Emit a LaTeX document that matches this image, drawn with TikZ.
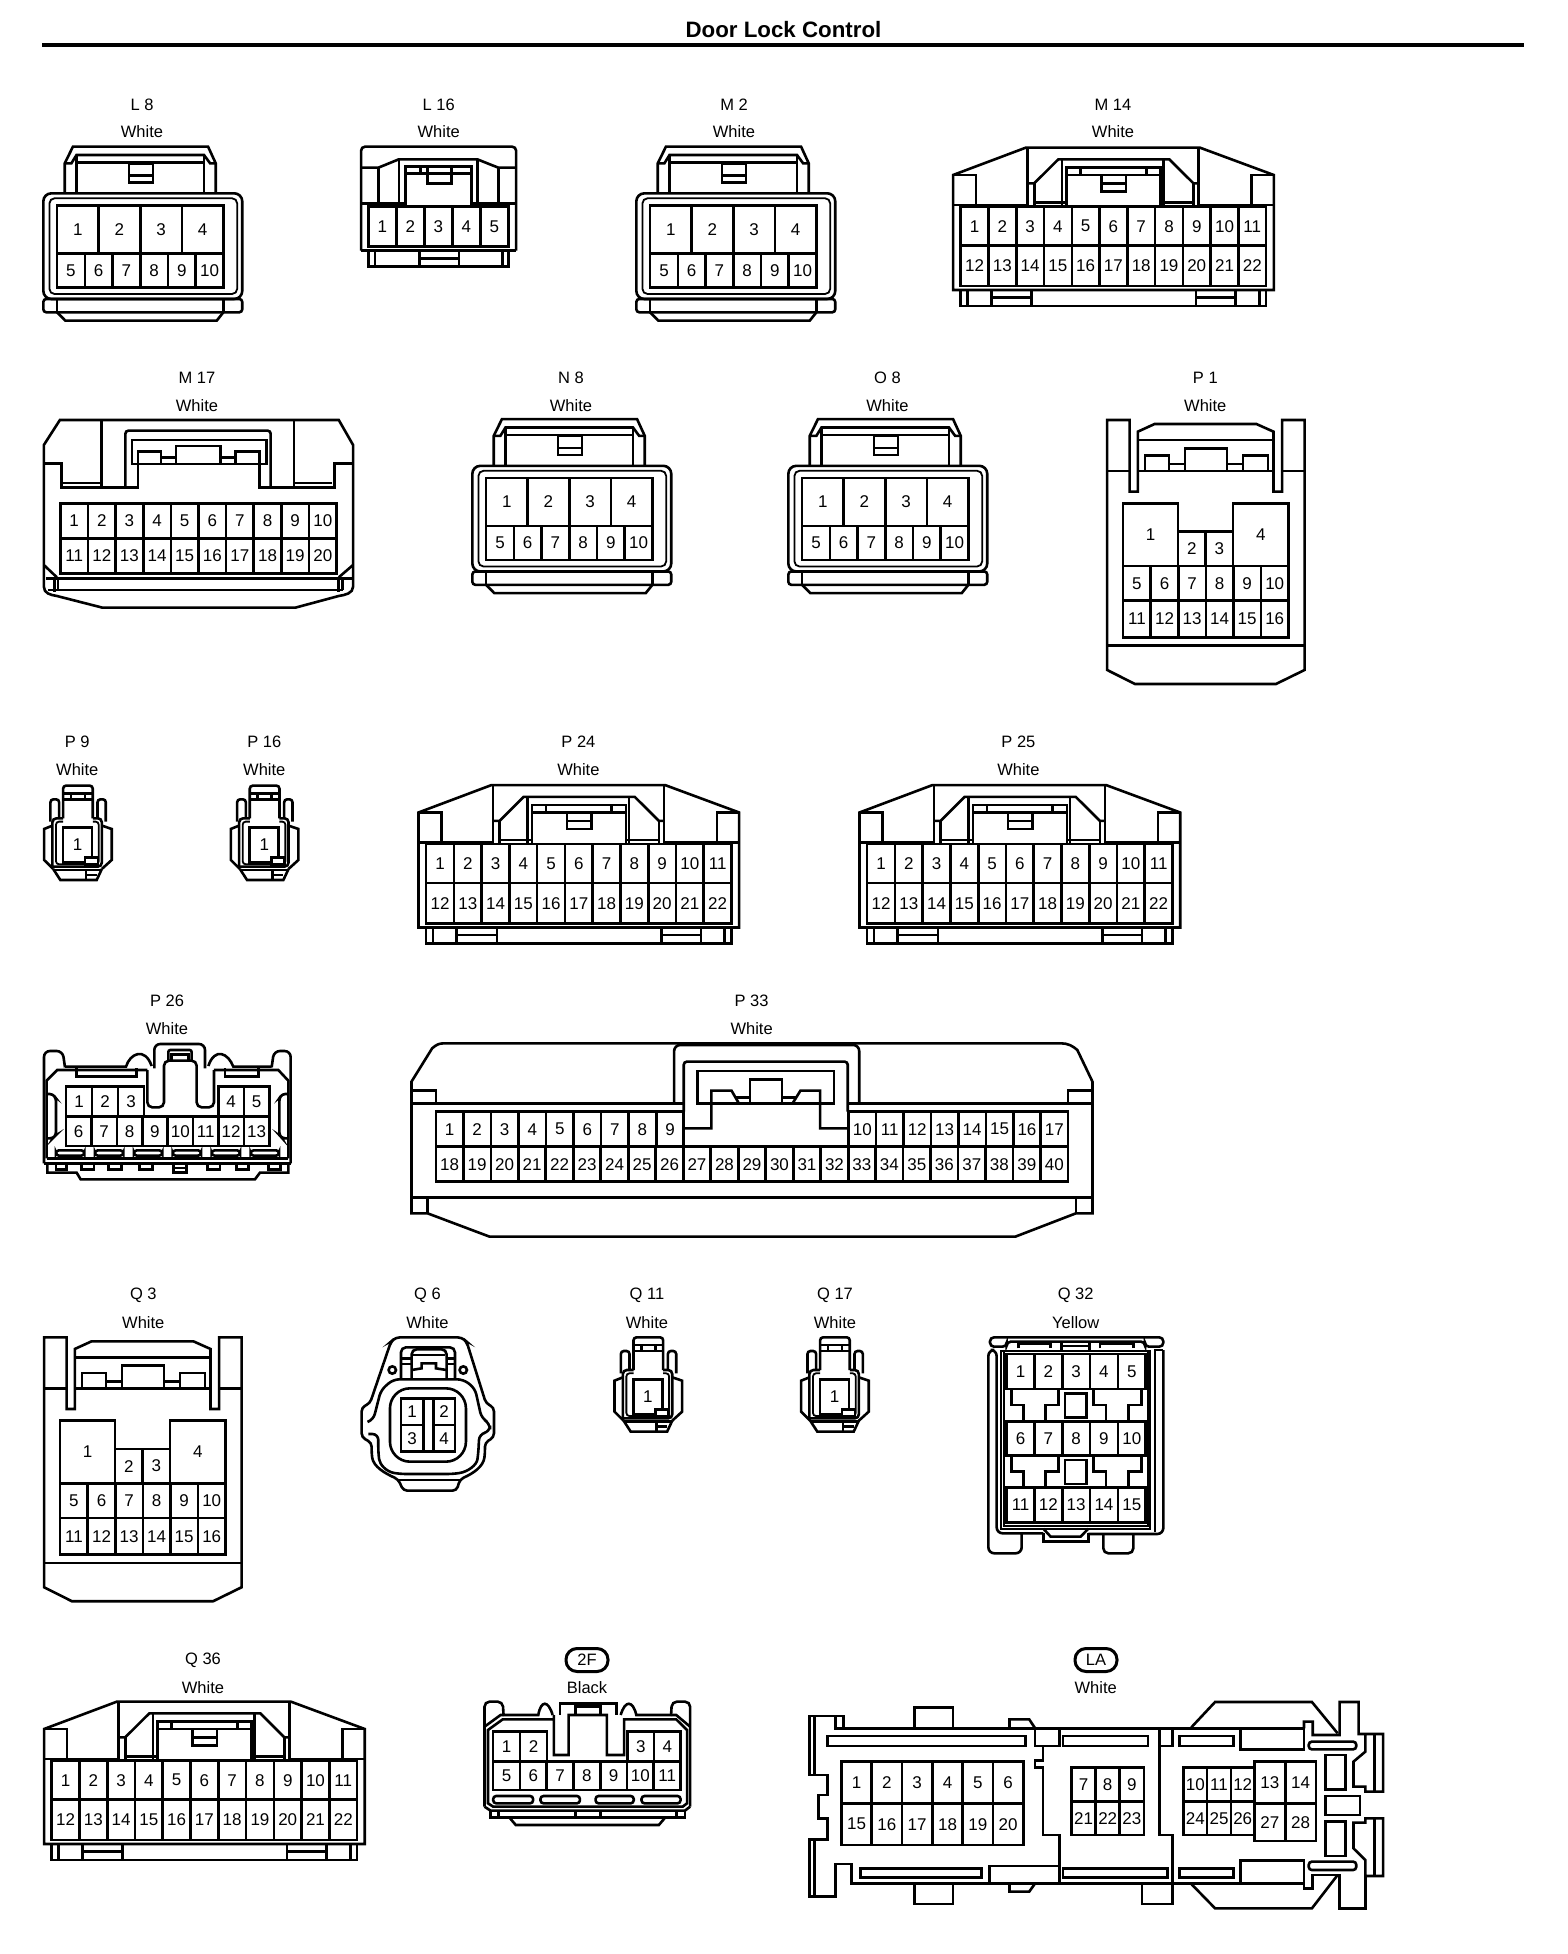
\documentclass[tikz,border=0pt]{standalone}
\usepackage{fontspec}
\setmainfont{Liberation Sans}
\newcount\pincnt
\tikzset{
  ln/.style={line width=2.6pt,line join=miter,line cap=butt},
  thn/.style={line width=1.8pt},
  pinlab/.style={font=\fontsize{17}{18}\selectfont,inner sep=0pt},
  toplab/.style={font=\fontsize{16.5}{18}\selectfont,inner sep=0pt},
  ovalbox/.style={draw,line width=3pt,rounded corners=11pt,minimum width=42pt,minimum height=23pt,inner sep=0pt,font=\fontsize{16.5}{18}\selectfont}
}
% row of equal cells in the current scale: x0,x1,y0,y1,n,first
\newcommand\prow[6]{%
  \draw[ln] (#1,#3) rectangle (#2,#4);
  \foreach \i in {1,...,#5}{
    \pgfmathsetmacro\xa{#1+(#2-#1)/#5*(\i-1)}
    \pgfmathsetmacro\xb{#1+(#2-#1)/#5*\i}
    \pgfmathtruncatemacro\lab{#6+\i-1}
    \ifnum\i>1 \draw[ln] (\xa,#3)--(\xa,#4);\fi
    \global\advance\pincnt by 1
    \node[pinlab] (pin\the\pincnt) at ({(\xa+\xb)/2},{(#3+#4)/2}) {\lab};
  }}
% single cell: x0,y0,x1,y1,label
\newcommand\pcell[5]{%
  \draw[ln] (#1,#2) rectangle (#3,#4);
  \global\advance\pincnt by 1
  \node[pinlab] (pin\the\pincnt) at ({(#1+#3)/2},{(#2+#4)/2}) {#5};}
\newcommand\tlabels[5]{% name,x,y,text1,text2
  \node[toplab] (#1a) at (#2,#3) {#4};
  \node[toplab] (#1b) at (#2,#3+27.4) {#5};}

% four-over-six connector (L8, M2, N8, O8)
\newcommand\connA[2]{\begin{scope}[shift={(#1,#2)},xscale=0.51,yscale=0.3333]
  \draw[ln] (127,580)--(127,490)--(143,440)--(408,440)--(423,490)--(423,580);
  \draw[ln] (127,490)--(140,490)--(150,465)--(400,465)--(412,490)--(423,490);
  \draw[ln] (150,465)--(150,580) (400,465)--(400,580) (150,488)--(400,488);
  \draw[ln] (253,490) rectangle (300,548) (253,527)--(300,527);
  \draw[ln,rounded corners=8pt] (85,580) rectangle (475,897);
  \draw[thn,rounded corners=5pt] (97,595) rectangle (465,882);
  \prow{112}{438}{617}{760}{4}{1}
  \prow{112}{438}{760}{862}{6}{5}
  \draw[ln,rounded corners=3pt] (85,897) rectangle (475,937);
  \draw[ln] (112,897)--(112,937) (438,897)--(438,937);
  \draw[ln] (112,937)--(128,962)--(425,962)--(438,937);
\end{scope}}

% 22 pin connector (M14, P24, P25, Q36)
\newcommand\connC[2]{\begin{scope}[shift={(800+#1,80+#2)},xscale=0.3827,yscale=0.3333]
  \draw[ln] (400,285)--(590,203)--(1045,203)--(1238,285)--(1238,630)--(400,630)--cycle;
  \draw[ln] (400,285)--(460,285)--(460,375) (1238,285)--(1180,285)--(1180,375);
  \draw[ln] (400,375)--(597,375) (1042,375)--(1238,375);
  \draw[ln] (595,203)--(595,380) (1042,203)--(1042,380);
  \draw[ln] (595,310)--(612,310)--(675,238)--(965,238)--(1028,310)--(1042,310);
  \draw[ln] (612,310)--(612,380) (1028,310)--(1028,380);
  \draw[ln] (685,238)--(685,378) (950,238)--(950,378);
  \draw[ln] (697,380)--(697,262)--(942,262)--(942,380) (697,285)--(942,285);
  \draw[ln] (733,262)--(733,285) (905,262)--(905,285);
  \draw[ln] (612,368)--(697,368) (942,368)--(1028,368);
  \draw[ln] (788,285) rectangle (852,335) (788,310)--(852,310);
  \prow{420}{1218}{380}{497}{11}{1}
  \prow{420}{1218}{497}{618}{11}{12}
  \draw[ln] (420,630)--(420,678)--(1218,678)--(1218,630);
  \draw[ln] (438,630)--(438,678) (1200,630)--(1200,678);
  \draw[ln] (500,630)--(500,678) (605,630)--(605,678) (500,652)--(605,652);
  \draw[ln] (1035,630)--(1035,678) (1138,630)--(1138,678) (1035,652)--(1138,652);
\end{scope}}

% 16 pin connector (P1, Q3)
\newcommand\connE[2]{\begin{scope}[shift={(760+#1,360+#2)},xscale=0.3571,yscale=0.3333]
  \draw[ln] (972,180)--(972,930)--(1050,972)--(1445,972)--(1525,930)--(1525,180)--(1462,180)--(1462,395)--(1438,395)--(1438,215)--(1390,192)--(1105,192)--(1058,215)--(1058,395)--(1035,395)--(1035,180)--cycle;
  \draw[ln] (972,333)--(1035,333) (1058,333)--(1438,333) (1462,333)--(1525,333) (1058,240)--(1438,240);
  \draw[ln] (1078,333)--(1078,287)--(1145,287)--(1145,333);
  \draw[ln] (1190,333)--(1190,265)--(1308,265)--(1308,333);
  \draw[ln] (1352,333)--(1352,287)--(1422,287)--(1422,333);
  \draw[ln] (1145,312)--(1190,312) (1308,312)--(1352,312);
  \pcell{1017}{430}{1171}{618}{1}
  \pcell{1171}{515}{1248}{618}{2}
  \pcell{1248}{515}{1325}{618}{3}
  \pcell{1325}{430}{1480}{618}{4}
  \prow{1017}{1480}{618}{722}{6}{5}
  \prow{1017}{1480}{722}{832}{6}{11}
  \draw[ln] (972,857)--(1525,857);
\end{scope}}

% single pin connector (P9, P16, Q11, Q17)
\newcommand\connF[2]{\begin{scope}[shift={(590+#1,1290+#2)},xscale=0.3954,yscale=0.3333]
  \draw[ln,rounded corners=3pt] (110,240)--(110,142)--(185,142)--(185,240);
  \draw[ln] (110,165)--(185,165) (110,183)--(185,183);
  \draw[ln] (130,165)--(130,183) (165,165)--(165,183);
  \draw[ln,rounded corners=3pt] (78,250)--(78,183)--(100,183)--(100,240);
  \draw[ln,rounded corners=3pt] (197,240)--(197,183)--(218,183)--(218,250);
  \draw[ln,rounded corners=4pt] (83,385)--(83,240)--(110,240);
  \draw[ln,rounded corners=4pt] (185,240)--(208,240)--(208,385)--(83,385);
  \draw[thn,rounded corners=3pt] (110,250)--(92,250)--(92,378)--(200,378)--(200,250)--(185,250);
  \draw[ln] (83,262)--(62,272)--(62,365)--(85,392);
  \draw[ln] (208,262)--(233,272)--(233,365)--(208,392);
  \draw[ln] (85,392)--(103,425)--(195,425)--(208,392);
  \draw[ln] (85,395)--(208,395) (168,398)--(168,425) (168,410)--(195,410);
  \pcell{110}{268}{183}{372}{1}
  \draw[ln,fill=white] (165,358) rectangle (198,378);
\end{scope}}

\begin{document}
\begin{tikzpicture}[x=1pt,y=-1pt]
\useasboundingbox (0,0) rectangle (1568,1954);
\fill[white] (0,0) rectangle (1568,1954);

% title
\node[inner sep=0pt,font=\fontsize{22.3}{24}\selectfont\bfseries] (title) at (783.5,30) {Door Lock Control};
\draw[line width=4pt] (42,45)--(1524,45);

% labels
\tlabels{lLeight}{142}{104.7}{L 8}{White}
\tlabels{lLsix}{438.7}{104.7}{L 16}{White}
\tlabels{lMtwo}{734}{104.7}{M 2}{White}
\tlabels{lMfour}{1113}{104.7}{M 14}{White}
\tlabels{lMseven}{197}{377.7}{M 17}{White}
\tlabels{lNeight}{571}{377.7}{N 8}{White}
\tlabels{lOeight}{887.5}{377.7}{O 8}{White}
\tlabels{lPone}{1205.3}{377.7}{P 1}{White}
\tlabels{lPnine}{77.3}{741.7}{P 9}{White}
\tlabels{lPsix}{264.3}{741.7}{P 16}{White}
\tlabels{lPtf}{578.4}{741.7}{P 24}{White}
\tlabels{lPtv}{1018.4}{741.7}{P 25}{White}
\tlabels{lPts}{167}{1001}{P 26}{White}
\tlabels{lPtt}{751.6}{1001}{P 33}{White}
\tlabels{lQth}{143.3}{1295}{Q 3}{White}
\tlabels{lQsx}{427.5}{1295}{Q 6}{White}
\tlabels{lQel}{647}{1295}{Q 11}{White}
\tlabels{lQsv}{835}{1295}{Q 17}{White}
\tlabels{lQtt}{1075.7}{1295}{Q 32}{Yellow}
\tlabels{lQts}{203}{1660}{Q 36}{White}
\node[ovalbox] (ovalTF) at (587,1660) {2F};
\node[toplab] (lTF) at (587,1687.4) {Black};
\node[ovalbox] (ovalLA) at (1096,1660) {LA};
\node[toplab] (lLA) at (1095.7,1687.4) {White};

% four-over-six
\connA{0}{0}
\connA{593}{0}
\connA{429}{272.5}
\connA{745}{272.5}

% L 16
\begin{scope}[xscale=0.51,yscale=0.3333]
  \draw[ln,rounded corners=4pt] (708,752)--(708,440)--(1012,440)--(1012,752);
  \draw[ln] (708,752)--(1012,752);
  \prow{722}{997}{620}{740}{5}{1}
  \draw[ln] (722,752)--(722,800)--(997,800)--(997,752);
  \draw[ln] (735,752)--(735,800) (985,752)--(985,800) (822,752)--(822,800) (900,752)--(900,800) (822,775)--(900,775);
  \draw[ln] (708,503)--(742,503)--(782,478)--(936,478)--(977,503)--(1012,503);
  \draw[ln] (742,503)--(742,610) (977,503)--(977,610) (782,478)--(782,620) (936,478)--(936,620);
  \draw[ln] (708,610)--(795,610) (925,610)--(1012,610);
  \draw[ln] (795,620)--(795,500)--(925,500)--(925,620) (795,520)--(925,520);
  \draw[ln] (825,500)--(825,520) (885,500)--(885,520);
  \draw[ln] (838,500)--(838,550)--(885,550)--(885,520);
\end{scope}

% 22 pin
\connC{0}{0}
\connC{-534.6}{637.5}
\connC{-93.6}{637.5}
\connC{-909}{1554}

% M 17
\begin{scope}[shift={(20,360)},xscale=0.4337,yscale=0.3333]
  \draw[ln] (92,180)--(735,180)--(768,255)--(768,680) .. controls (768,700) and (750,705) .. (735,708)--(635,743)--(190,743)--(85,708) .. controls (70,705) and (55,700) .. (55,680)--(55,255)--cycle;
  \draw[ln] (55,310)--(95,310)--(95,383)--(272,383)--(272,312);
  \draw[ln] (552,312)--(552,383)--(725,383)--(725,310)--(768,310);
  \draw[ln] (188,180)--(188,383) (632,180)--(632,383);
  \draw[ln,rounded corners=3pt] (243,383)--(243,212)--(578,212)--(578,383);
  \draw[ln] (258,240) rectangle (568,312);
  \draw[ln] (272,312)--(272,275)--(325,275)--(325,312);
  \draw[ln] (497,312)--(497,275)--(552,275)--(552,312);
  \draw[ln] (360,312)--(360,258)--(462,258)--(462,312);
  \draw[ln] (325,292)--(360,292) (462,292)--(497,292);
  \draw[thn] (100,370)--(188,370) (635,370)--(720,370);
  \prow{93}{730}{430}{535}{10}{1}
  \prow{93}{730}{535}{640}{10}{11}
  \draw[ln] (55,615)--(85,652) (768,615)--(735,652);
  \draw[ln] (60,655)--(765,655) (65,690)--(745,690);
  \draw[ln] (80,655)--(80,695) (88,655)--(88,690) (735,655)--(735,695) (743,655)--(743,690);
\end{scope}

% 16 pin
\connE{0}{0}
\connE{-1063}{917.3}

% single pin
\connF{0}{0}
\connF{186.6}{0}
\connF{-570.4}{-551.7}
\connF{-383.7}{-551.7}

% P 26
\begin{scope}[shift={(20,990)},xscale=0.3333,yscale=0.3333]
  \draw[ln,rounded corners=6pt] (72,520)--(72,183)--(128,183)--(135,232);
  \draw[ln,rounded corners=6pt] (812,520)--(812,183)--(762,183)--(755,232);
  \draw[ln] (135,230)--(318,230) .. controls (330,190) and (375,170) .. (395,228);
  \draw[ln] (755,230)--(640,230) .. controls (625,190) and (585,170) .. (565,228);
  \draw[ln,rounded corners=6pt] (403,235)--(403,162)--(555,162)--(555,235);
  \draw[ln] (72,520)--(812,520);
  \draw[ln] (80,505)--(80,272)--(112,240)--(382,240);
  \draw[ln] (805,505)--(805,272)--(775,240)--(582,240);
  \draw[ln] (80,505)--(805,505);
  \draw[ln] (170,235)--(170,260)--(350,260)--(350,235);
  \draw[ln] (615,235)--(615,260)--(715,260)--(715,235);
  \draw[ln,rounded corners=5pt] (382,240)--(382,352)--(432,352)--(432,212)--(530,212)--(530,352)--(582,352)--(582,240);
  \draw[ln,rounded corners=2pt] (445,212)--(445,180)--(515,180)--(515,212);
  \draw[ln] (455,212)--(455,193)--(505,193)--(505,212);
  \prow{138}{372}{290}{380}{3}{1}
  \prow{595}{748}{290}{380}{2}{4}
  \prow{138}{748}{380}{468}{8}{6}
  \draw[ln,rounded corners=3pt] (80,312)--(98,312)--(108,325)--(108,435)--(98,445)--(80,445);
  \draw[ln,rounded corners=3pt] (805,312)--(787,312)--(778,325)--(778,435)--(787,445)--(805,445);
  \foreach \a/\b in {108/193,225/310,342/427,458/543,575/660,692/777}
    \draw[ln,rounded corners=3pt] (\a,481) rectangle (\b,497);
  \draw[ln] (82,520)--(82,548)--(170,548)--(182,568)--(705,568)--(720,548)--(805,548)--(805,520);
  \foreach \a/\b in {108/140,185/222,265/305,358/398,562/600,650/685,745/782}
    \draw[ln] (\a,520)--(\a,538)--(\b,538)--(\b,520);
  \draw[ln] (460,520) rectangle (500,548) (460,534)--(500,534);
\end{scope}

% P 33
\begin{scope}[shift={(400,1000)},xscale=0.4592,yscale=0.3333]
  \draw[ln] (25,245)--(70,145) .. controls (78,135) and (85,130) .. (95,130)--(1440,130) .. controls (1455,130) and (1465,138) .. (1475,150)--(1508,245)--(1508,640)--(1472,640)--(1340,710)--(195,710)--(60,640)--(25,640)--cycle;
  \draw[ln] (25,272)--(78,272)--(78,310) (1508,272)--(1455,272)--(1455,310);
  \draw[ln] (25,310)--(618,310) (977,310)--(1508,310);
  \draw[ln,rounded corners=6pt] (597,310)--(597,135)--(1000,135)--(1000,310);
  \draw[ln,rounded corners=3pt] (618,335)--(618,185)--(975,185)--(975,335);
  \draw[ln] (648,213) rectangle (945,310);
  \draw[ln] (618,385)--(678,385)--(678,272)--(722,272)--(738,310);
  \draw[ln] (975,385)--(915,385)--(915,272)--(872,272)--(855,310);
  \draw[ln] (762,310)--(762,238)--(832,238)--(832,310);
  \draw[ln] (730,293)--(762,293) (832,293)--(865,293);
  \prow{78}{618}{335}{440}{9}{1}
  \prow{977}{1455}{335}{440}{8}{10}
  \prow{78}{1455}{440}{545}{23}{18}
  \draw[ln] (25,592)--(1508,592) (60,592)--(60,640) (1472,592)--(1472,640);
\end{scope}

% Q 6
\begin{scope}[shift={(20,1290)},xscale=0.3333,yscale=0.3333]
  \draw[ln,rounded corners=4pt] (1220,142)--(1325,142)--(1340,155)--(1398,340)--(1422,352)--(1422,442)--(1395,458)--(1395,490) .. controls (1390,530) and (1360,550) .. (1320,568)--(1310,602)--(1150,602)--(1135,568) .. controls (1095,550) and (1060,530) .. (1055,490)--(1055,458)--(1025,442)--(1025,352)--(1050,340)--(1113,155)--(1128,142)--(1220,142);
  \draw[ln,rounded corners=6pt] (1045,432)--(1075,432)--(1075,490) .. controls (1080,525) and (1100,545) .. (1140,552)--(1300,552) .. controls (1345,545) and (1370,525) .. (1375,490)--(1378,432)--(1410,425)--(1410,400)--(1385,385)--(1365,295)--(1330,268)--(1120,268)--(1083,300)--(1060,390)--(1045,395);
  \draw[ln,rounded corners=20pt] (1110,295) rectangle (1338,515);
  \pcell{1143}{325}{1210}{405}{1}
  \pcell{1240}{325}{1305}{405}{2}
  \pcell{1143}{405}{1210}{485}{3}
  \pcell{1240}{405}{1305}{485}{4}
  \draw[ln] (1210,325)--(1240,325) (1210,485)--(1240,485);
  \draw[ln,rounded corners=5pt] (1143,268)--(1143,172)--(1305,172)--(1305,268);
  \draw[ln,rounded corners=5pt] (1175,265)--(1175,178)--(1280,178)--(1280,265);
  \draw[ln] (1143,205)--(1175,205) (1143,222)--(1175,222) (1280,205)--(1305,205) (1280,222)--(1305,222);
  \draw[ln] (1175,240)--(1205,235)--(1205,220)--(1248,220)--(1248,235)--(1280,240);
  \draw[ln] (1180,195)--(1275,195);
  \draw[ln] (1117,240) circle [radius=11];
  \draw[ln] (1330,240) circle [radius=11];
  \draw[ln] (1135,570)--(1320,570);
\end{scope}

% Q 32
\begin{scope}[shift={(980,1290)},xscale=0.3333,yscale=0.3333]
  \draw[ln,rounded corners=4pt] (30,170)--(30,142)--(550,142)--(550,170)--(495,170)--(495,155)--(80,155)--(80,170)--cycle;
  \draw[ln] (115,175)--(115,160)--(212,160)--(212,175) (360,175)--(360,160)--(460,160)--(460,175);
  \draw[ln] (245,155)--(245,180) (328,155)--(328,180) (245,168)--(328,168);
  \draw[ln,rounded corners=6pt] (125,730)--(125,790)--(25,790)--(25,180)--(50,180)--(50,730)--(190,730);
  \draw[ln,rounded corners=6pt] (550,180)--(550,732)--(325,732);
  \draw[ln] (550,180)--(525,180)--(525,725);
  \draw[ln,rounded corners=5pt] (370,732)--(370,790)--(460,790)--(460,732);
  \draw[ln] (190,730)--(190,755)--(325,755)--(325,730);
  \draw[thn] (64,183) rectangle (510,716);
  \draw[ln] (190,716)--(212,740)--(302,740)--(325,716);
  \draw[thn] (72,183)--(72,707)--(503,707)--(503,183);
  \prow{80}{497}{192}{297}{5}{1}
  \prow{80}{497}{395}{497}{5}{6}
  \prow{80}{497}{593}{697}{5}{11}
  \foreach \d in {0,200}{
    \draw[ln] (95,300+\d)--(95,345+\d)--(130,345+\d)--(130,395+\d);
    \draw[ln] (235,300+\d)--(235,345+\d)--(197,345+\d)--(197,395+\d);
    \draw[ln] (340,300+\d)--(340,345+\d)--(378,345+\d)--(378,395+\d);
    \draw[ln] (485,300+\d)--(485,345+\d)--(445,345+\d)--(445,395+\d);
    \draw[ln] (255,310+\d) rectangle (320,382+\d);
  }
\end{scope}

% 2F
\begin{scope}[shift={(30,1640)},xscale=0.4337,yscale=0.3333]
  \draw[ln,rounded corners=5pt] (1048,500)--(1048,185)--(1090,185)--(1092,228);
  \draw[ln,rounded corners=5pt] (1522,500)--(1522,185)--(1480,185)--(1478,228);
  \draw[ln] (1048,260)--(1085,225)--(1172,225) .. controls (1178,180) and (1195,180) .. (1205,225);
  \draw[ln] (1522,260)--(1490,225)--(1398,225) .. controls (1390,180) and (1372,180) .. (1362,225);
  \draw[ln] (1222,225)--(1222,190)--(1352,190)--(1352,225);
  \draw[ln] (1048,500)--(1062,512)--(1510,512)--(1522,500);
  \draw[ln] (1208,225)--(1208,345)--(1242,345)--(1242,225)--(1330,225)--(1330,345)--(1370,345)--(1370,238)--(1490,238)--(1515,270)--(1515,490)--(1505,500)--(1068,500)--(1056,490)--(1056,270)--(1090,238)--(1208,238);
  \draw[ln] (1258,225)--(1258,200)--(1315,200)--(1315,225);
  \prow{1068}{1192}{275}{365}{2}{1}
  \prow{1378}{1500}{275}{365}{2}{3}
  \prow{1068}{1500}{365}{450}{7}{5}
  \foreach \a/\b in {1068/1160,1177/1268,1304/1392,1410/1500}
    \draw[ln,rounded corners=3pt] (\a,468) rectangle (\b,490);
  \draw[ln] (1062,512)--(1062,532)--(1510,532)--(1510,512);
  \draw[ln] (1080,512)--(1080,532) (1490,512)--(1490,532) (1258,512)--(1258,532) (1315,512)--(1315,532);
  \draw[ln] (1105,532)--(1120,555)--(1450,555)--(1465,532);
\end{scope}

% LA
\begin{scope}[shift={(790,1640)},xscale=0.3954,yscale=0.3333]
  \draw[ln] (135,265)--(135,228)--(50,228)--(50,405)--(95,405)--(95,465)--(72,465)--(72,535)--(95,535)--(95,598)--(50,598)--(50,770)--(115,770)--(115,672)--(155,672)--(155,730)--(1300,730);
  \draw[ln] (115,228)--(115,265)--(1300,265);
  \draw[ln] (62,228)--(62,405) (62,598)--(62,770);
  \draw[ln] (315,265)--(315,202)--(412,202)--(412,265);
  \draw[ln] (315,730)--(315,792)--(412,792)--(412,730);
  \draw[ln] (555,265)--(555,238)--(605,238)--(620,265);
  \draw[ln] (555,730)--(555,755)--(605,755)--(620,730);
  \draw[ln] (95,288) rectangle (595,318);
  \draw[ln] (178,685) rectangle (485,712);
  \draw[ln] (690,288) rectangle (905,318);
  \draw[ln] (690,685) rectangle (955,712);
  \draw[ln] (985,288) rectangle (1122,318);
  \draw[ln] (985,685) rectangle (1122,712);
  \draw[ln] (620,265)--(620,318)--(682,318)--(682,265);
  \draw[ln] (620,318)--(640,318)--(640,362)--(620,362)--(620,382)--(640,382)--(640,585)--(682,585)--(682,730);
  \draw[ln] (505,730)--(505,678)--(682,678);
  \draw[ln] (968,265)--(968,318)--(935,318);
  \draw[ln] (935,265)--(935,585)--(968,585)--(968,792)--(890,792)--(890,730);
  \draw[ln] (1015,262)--(1075,186)--(1320,186)--(1385,280);
  \draw[ln] (1300,265)--(1300,245)--(1322,245)--(1322,285)--(1390,285)--(1390,186)--(1438,186)--(1438,282)--(1500,282)--(1500,455)--(1455,455)--(1455,440)--(1425,440)--(1425,365)--(1455,335)--(1455,285);
  \draw[ln,rounded corners=3pt] (1312,305) rectangle (1432,328);
  \draw[ln] (1140,265)--(1140,328)--(1300,328)--(1300,265);
  \draw[ln] (1140,730)--(1140,662)--(1300,662)--(1300,730);
  \draw[ln] (1355,345) rectangle (1405,448);
  \draw[ln] (1355,468) rectangle (1442,525);
  \draw[ln] (1355,545) rectangle (1405,648);
  \draw[ln] (1425,548)--(1455,548)--(1455,535)--(1500,535)--(1500,708)--(1455,708)--(1455,660)--(1425,625)--cycle;
  \draw[ln] (1478,285)--(1478,455) (1478,535)--(1478,708);
  \draw[ln] (1015,732)--(1075,805)--(1320,805)--(1385,705);
  \draw[ln] (1300,730)--(1300,745)--(1322,745)--(1322,705)--(1390,705)--(1390,805)--(1455,805)--(1455,708);
  \draw[ln,rounded corners=3pt] (1312,665) rectangle (1432,690);
  \prow{130}{590}{365}{490}{6}{1}
  \prow{130}{590}{490}{615}{6}{15}
  \prow{712}{895}{382}{485}{3}{7}
  \prow{712}{895}{485}{585}{3}{21}
  \prow{995}{1175}{382}{485}{3}{10}
  \prow{995}{1175}{485}{585}{3}{24}
  \prow{1175}{1330}{365}{490}{2}{13}
  \prow{1175}{1330}{490}{603}{2}{27}
\end{scope}
\end{tikzpicture}
\end{document}
